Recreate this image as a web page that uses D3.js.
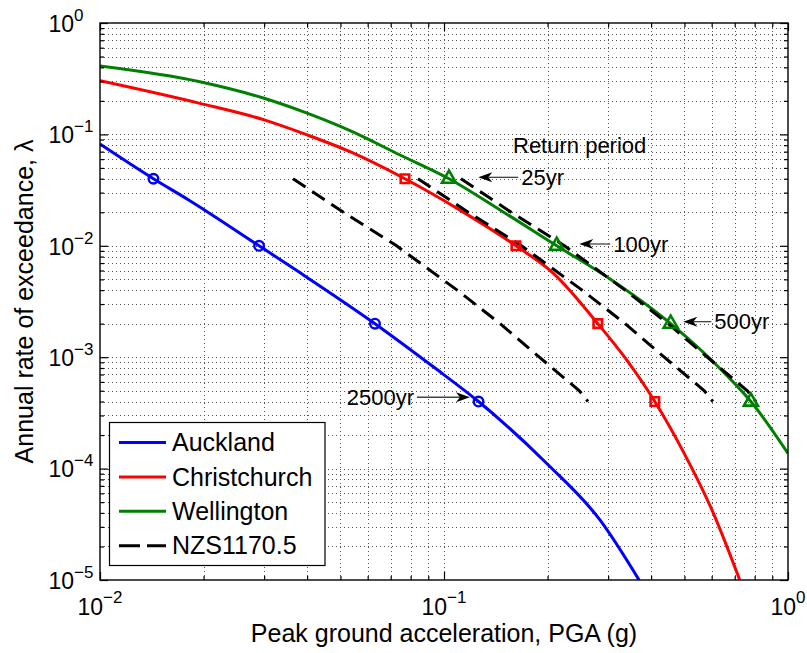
<!DOCTYPE html>
<html>
<head>
<meta charset="utf-8">
<script src="https://cdn.jsdelivr.net/npm/d3@7"></script>
<style>
  body { margin: 0; background: #fff; }
  svg { display: block; }
  text { font-family: "Liberation Sans", Arial, Helvetica, sans-serif; fill: #000; }
</style>
</head>
<body>
<svg id="chart" width="807" height="653"></svg>
<script>
// ---- Seismic hazard curves: PGA (g) vs annual rate of exceedance ----
const pgaAuckland  = [0.01, 0.0143, 0.0181, 0.029, 0.0381, 0.063, 0.0931, 0.126, 0.199, 0.284, 0.369];
const rateAuckland = [0.082, 0.04, 0.0258, 0.01, 0.00575, 0.002, 0.00082, 0.0004, 0.000111, 0.0000346, 0.00001];

const pgaChristchurch  = [0.01, 0.0195, 0.03, 0.04, 0.0533, 0.077, 0.111, 0.1618, 0.208, 0.28, 0.34, 0.41, 0.496, 0.607, 0.724];
const rateChristchurch = [0.303, 0.19, 0.135, 0.099, 0.07, 0.04, 0.021, 0.01, 0.00566, 0.002, 0.00094, 0.0004, 0.000142, 0.0000397, 0.00001];

const pgaWellington  = [0.01, 0.0195, 0.03, 0.04, 0.0533, 0.0745, 0.1034, 0.1455, 0.2127, 0.307, 0.456, 0.648, 0.78, 1.0];
const rateWellington = [0.411, 0.297, 0.211, 0.155, 0.108, 0.0653, 0.04, 0.021, 0.01, 0.00493, 0.002, 0.000741, 0.0004, 0.000137];

// Return-period markers (25, 100, 500, 2500 yr)
const returnPeriods = ["25yr", "100yr", "500yr", "2500yr"];
const markerRates = [0.04, 0.01, 0.002, 0.0004];
const markerPgaAuckland = [0.0143, 0.029, 0.063, 0.126];
const markerPgaChristchurch = [0.077, 0.1618, 0.28, 0.41];
const markerPgaWellington = [0.1034, 0.2127, 0.456, 0.78];

// NZS1170.5 design PGA at each return period
const nzsRates = [0.04, 0.02, 0.01, 0.004, 0.002, 0.001, 0.0005, 0.0004];
const nzsAuckland = [0.0364, 0.051, 0.0728, 0.1092, 0.1456, 0.1893, 0.2475, 0.2621];
const nzsChristchurch = [0.084, 0.1176, 0.168, 0.252, 0.336, 0.4368, 0.5712, 0.6048];
const nzsWellington = [0.112, 0.1568, 0.224, 0.336, 0.448, 0.5824, 0.7616, 0.8064];

// Axis ticks
const xTickValues = [0.01, 0.1, 1];
const xTickExponents = ["\u22122", "\u22121", "0"];
const yTickValues = [1e-5, 1e-4, 1e-3, 1e-2, 1e-1, 1];
const yTickExponents = ["\u22125", "\u22124", "\u22123", "\u22122", "\u22121", "0"];

const legendLabels = ["Auckland", "Christchurch", "Wellington", "NZS1170.5"];

// ---- layout ----
const W = 807, H = 653;
const plot = { left: 100, top: 23, right: 788, bottom: 580 };
const colors = { auck: "#0000ff", chch: "#ff0000", wgtn: "#008000", nzs: "#000000" };

const svg = d3.select("#chart");
svg.append("rect").attr("width", W).attr("height", H).attr("fill", "#fff");

const x = d3.scaleLog().domain([0.01, 1]).range([plot.left, plot.right]);
const y = d3.scaleLog().domain([1e-5, 1]).range([plot.bottom, plot.top]);

// Grid (dotted, every 1..9 multiple of each decade)
const xGrid = x.ticks().filter(v => v > 0.01 * 1.0001 && v < 0.9999);
const yGrid = y.ticks().filter(v => v > 1e-5 * 1.0001 && v < 0.9999);
const grid = svg.append("g").attr("stroke", "#555").attr("stroke-width", 1)
  .attr("stroke-dasharray", "1,3");
grid.selectAll("line.vx").data(xGrid).join("line")
  .attr("x1", d => Math.round(x(d)) + 0.5).attr("x2", d => Math.round(x(d)) + 0.5)
  .attr("y1", plot.top).attr("y2", plot.bottom);
grid.selectAll("line.hy").data(yGrid).join("line")
  .attr("y1", d => Math.round(y(d)) + 0.5).attr("y2", d => Math.round(y(d)) + 0.5)
  .attr("x1", plot.left).attr("x2", plot.right);

// Clip to the axes area
svg.append("clipPath").attr("id", "clip").append("rect")
  .attr("x", plot.left).attr("y", plot.top)
  .attr("width", plot.right - plot.left).attr("height", plot.bottom - plot.top);
const layer = svg.append("g").attr("clip-path", "url(#clip)");

const smooth = d3.line().x(d => x(d[0])).y(d => y(d[1])).curve(d3.curveMonotoneX);
const straight = d3.line().x(d => x(d[0])).y(d => y(d[1]));

const curves = [
  { pga: pgaAuckland, rate: rateAuckland, color: colors.auck },
  { pga: pgaChristchurch, rate: rateChristchurch, color: colors.chch },
  { pga: pgaWellington, rate: rateWellington, color: colors.wgtn }
];
curves.forEach(c => {
  layer.append("path")
    .datum(c.pga.map((p, i) => [p, c.rate[i]]))
    .attr("d", smooth).attr("fill", "none")
    .attr("stroke", c.color).attr("stroke-width", 3)
    .attr("stroke-linejoin", "round");
});

// NZS1170.5 dashed lines
[nzsAuckland, nzsChristchurch, nzsWellington].forEach(arr => {
  layer.append("path")
    .datum(arr.map((p, i) => [p, nzsRates[i]]))
    .attr("d", straight).attr("fill", "none")
    .attr("stroke", colors.nzs).attr("stroke-width", 3)
    .attr("stroke-dasharray", "15,8");
});

// Markers
const markerSets = [
  { pga: markerPgaAuckland, color: colors.auck, type: "circle" },
  { pga: markerPgaChristchurch, color: colors.chch, type: "square" },
  { pga: markerPgaWellington, color: colors.wgtn, type: "triangle" }
];
markerSets.forEach(m => {
  const pts = m.pga.map((p, i) => [p, markerRates[i]]);
  if (m.type === "circle") {
    layer.selectAll(null).data(pts).join("circle")
      .attr("cx", d => x(d[0])).attr("cy", d => y(d[1])).attr("r", 4.8)
      .attr("fill", "none").attr("stroke", m.color).attr("stroke-width", 2.4);
  } else {
    const sym = m.type === "square"
      ? d3.symbol(d3.symbolSquare, 72)
      : d3.symbol(d3.symbolTriangle, 85);
    layer.selectAll(null).data(pts).join("path")
      .attr("d", sym)
      .attr("transform", d => `translate(${x(d[0])},${y(d[1])})`)
      .attr("fill", "none").attr("stroke", m.color).attr("stroke-width", 2.6);
  }
});

// Axes box + inward ticks on all sides
const xMinor = x.ticks().filter(v => !xTickValues.some(t => Math.abs(t - v) / t < 1e-6));
const yMinor = y.ticks().filter(v => !yTickValues.some(t => Math.abs(t - v) / t < 1e-6));
const MAJ = 8, MIN = 4;
function tickAxis(axisFn, scale, values, size, transform) {
  const g = svg.append("g").attr("transform", transform)
    .call(axisFn(scale).tickValues(values).tickSize(-size).tickFormat(() => ""));
  g.select(".domain").remove();
  g.selectAll(".tick line").attr("stroke", "#000").attr("stroke-width", 1.2);
  g.selectAll(".tick text").remove();
}
tickAxis(d3.axisBottom, x, xTickValues, MAJ, `translate(0,${plot.bottom})`);
tickAxis(d3.axisBottom, x, xMinor, MIN, `translate(0,${plot.bottom})`);
tickAxis(d3.axisTop, x, xTickValues, MAJ, `translate(0,${plot.top})`);
tickAxis(d3.axisTop, x, xMinor, MIN, `translate(0,${plot.top})`);
tickAxis(d3.axisLeft, y, yTickValues, MAJ, `translate(${plot.left},0)`);
tickAxis(d3.axisLeft, y, yMinor, MIN, `translate(${plot.left},0)`);
tickAxis(d3.axisRight, y, yTickValues, MAJ, `translate(${plot.right},0)`);
tickAxis(d3.axisRight, y, yMinor, MIN, `translate(${plot.right},0)`);

svg.append("rect")
  .attr("x", plot.left).attr("y", plot.top)
  .attr("width", plot.right - plot.left).attr("height", plot.bottom - plot.top)
  .attr("fill", "none").attr("stroke", "#000").attr("stroke-width", 1.4);

// Tick labels (10 with superscript exponent)
xTickValues.forEach((v, i) => {
  const t = svg.append("text").attr("x", x(v)).attr("y", plot.bottom + 35)
    .attr("text-anchor", "middle").style("font-size", "23px");
  t.append("tspan").text("10");
  t.append("tspan").attr("dy", -12).style("font-size", "17px").text(xTickExponents[i]);
});
yTickValues.forEach((v, i) => {
  const t = svg.append("text").attr("x", 48.5).attr("y", y(v) + 8.7)
    .attr("text-anchor", "start").style("font-size", "23px");
  t.append("tspan").text("10");
  t.append("tspan").attr("dy", -11).style("font-size", "17px").text(yTickExponents[i]);
});

// Axis titles
svg.append("text").attr("x", (plot.left + plot.right) / 2).attr("y", 642)
  .attr("text-anchor", "middle").style("font-size", "25px")
  .text("Peak ground acceleration, PGA (g)");
svg.append("text")
  .attr("transform", `translate(33,${(plot.top + plot.bottom) / 2}) rotate(-90)`)
  .attr("text-anchor", "middle").style("font-size", "25px")
  .text("Annual rate of exceedance, \u03bb");

// Return-period annotations
svg.append("text").attr("x", 513).attr("y", 153).style("font-size", "22px").text("Return period");

const annotLayout = [
  { tipPga: 0.1258, dy: -1.4, len: 40, dir: "right" },
  { tipPga: 0.2473, dy: -1.8, len: 31, dir: "right" },
  { tipPga: 0.4962, dy: -2.0, len: 28, dir: "right" },
  { tipPga: 0.1190, dy: -4.3, len: 53, dir: "left" }
];
annotLayout.forEach((a, i) => {
  const tx = x(a.tipPga), ty = y(markerRates[i]) + a.dy;
  const s = a.dir === "right" ? 1 : -1;  // s=1: label sits right of the tip
  const L = 14, hw = 5, notch = 4;
  const tail = tx + s * a.len;
  svg.append("line").attr("x1", tx + s * (L - notch)).attr("x2", tail)
    .attr("y1", ty).attr("y2", ty).attr("stroke", "#444").attr("stroke-width", 1.3);
  svg.append("path")
    .attr("d", `M${tx},${ty} L${tx + s * L},${ty - hw} L${tx + s * (L - notch)},${ty} L${tx + s * L},${ty + hw} Z`)
    .attr("fill", "#000");
  svg.append("text")
    .attr("x", tail + s * 3).attr("y", ty).attr("dy", "0.35em")
    .attr("text-anchor", s === 1 ? "start" : "end")
    .style("font-size", "22px").text(returnPeriods[i]);
});

// Legend
const leg = { x: 109.5, y: 422.5, w: 215.5, h: 143, row: 34.4, first: 442.5 };
svg.append("rect").attr("x", leg.x).attr("y", leg.y).attr("width", leg.w).attr("height", leg.h)
  .attr("fill", "#fff").attr("stroke", "#000").attr("stroke-width", 1.2);
const legColors = [colors.auck, colors.chch, colors.wgtn, colors.nzs];
legendLabels.forEach((lab, i) => {
  const cy = leg.first + i * leg.row;
  svg.append("line").attr("x1", 119).attr("x2", 166).attr("y1", cy).attr("y2", cy)
    .attr("stroke", legColors[i]).attr("stroke-width", 3)
    .attr("stroke-dasharray", i === 3 ? "21,7" : null);
  svg.append("text").attr("x", 172).attr("y", cy).attr("dy", "0.35em")
    .style("font-size", "25px").text(lab);
});
</script>
</body>
</html>
